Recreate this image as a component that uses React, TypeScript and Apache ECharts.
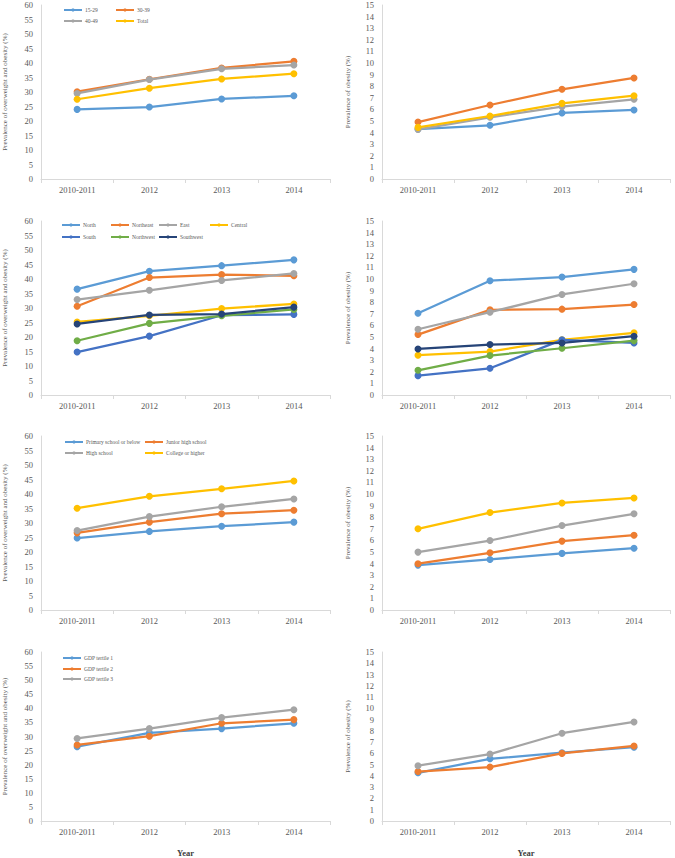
import React, { useEffect, useRef } from "react";
import * as echarts from "echarts";

const categories = ["2010-2011", "2012", "2013", "2014"];
const colors = ["#5B9BD5", "#ED7D31", "#A5A5A5", "#FFC000", "#4472C4", "#70AD47", "#264478"];

// Row 1: age groups
const ageNames = ["15-29", "30-39", "40-49", "Total"];
const ageOverweight = [
  [24.0, 24.8, 27.6, 28.7],
  [30.1, 34.4, 38.3, 40.6],
  [29.5, 34.3, 38.0, 39.3],
  [27.5, 31.3, 34.5, 36.3],
];
const ageObesity = [
  [4.3, 4.63, 5.69, 5.95],
  [4.91, 6.38, 7.73, 8.71],
  [4.28, 5.32, 6.24, 6.87],
  [4.45, 5.43, 6.52, 7.18],
];

// Row 2: regions
const regionNames = ["North", "Northeast", "East", "Central", "South", "Northwest", "Southwest"];
const regionOverweight = [
  [36.5, 42.7, 44.6, 46.6],
  [30.6, 40.5, 41.5, 41.1],
  [32.9, 36.1, 39.5, 41.9],
  [25.2, 27.3, 29.8, 31.4],
  [14.8, 20.3, 27.5, 27.8],
  [18.7, 24.7, 27.3, 29.5],
  [24.5, 27.6, 27.9, 30.3],
];
const regionObesity = [
  [7.05, 9.85, 10.17, 10.83],
  [5.21, 7.34, 7.4, 7.8],
  [5.67, 7.14, 8.67, 9.59],
  [3.43, 3.74, 4.75, 5.36],
  [1.67, 2.3, 4.75, 4.49],
  [2.13, 3.4, 4.03, 4.69],
  [3.97, 4.35, 4.49, 5.07],
];

// Row 3: education
const eduNames = ["Primary school or below", "Junior high school", "High school", "College or higher"];
const eduOverweight = [
  [24.8, 27.1, 28.9, 30.3],
  [26.6, 30.3, 33.2, 34.4],
  [27.4, 32.2, 35.6, 38.3],
  [35.1, 39.2, 41.8, 44.5],
];
const eduObesity = [
  [3.87, 4.36, 4.88, 5.33],
  [3.99, 4.93, 5.94, 6.45],
  [4.99, 5.99, 7.28, 8.29],
  [7.0, 8.4, 9.23, 9.66],
];

// Row 4: GDP tertiles
const gdpNames = ["GDP tertile 1", "GDP tertile 2", "GDP tertile 3"];
const gdpOverweight = [
  [26.4, 31.3, 32.8, 34.7],
  [27.0, 30.1, 34.7, 36.0],
  [29.3, 32.8, 36.7, 39.5],
];
const gdpObesity = [
  [4.28, 5.52, 6.06, 6.55],
  [4.39, 4.79, 6.0, 6.66],
  [4.91, 5.94, 7.79, 8.79],
];

const rows = [
  { names: ageNames, left: ageOverweight, right: ageObesity },
  { names: regionNames, left: regionOverweight, right: regionObesity },
  { names: eduNames, left: eduOverweight, right: eduObesity },
  { names: gdpNames, left: gdpOverweight, right: gdpObesity },
];

// legend item positions (layout)
const legendPos: [number, number][][] = [
  [[63, 11], [115, 11], [63, 22], [115, 22]],
  [[61, 226], [110, 226], [158, 226], [209, 226], [61, 238], [110, 238], [158, 238]],
  [[64, 443], [144, 443], [64, 454], [144, 454]],
  [[62, 659], [62, 670], [62, 680]],
];

const FONT = "'Liberation Serif', 'Times New Roman', serif";
const rowTops = [5, 221, 436, 652];
const PLOT_H = 174;

export default function App() {
  const ref = useRef<HTMLDivElement>(null);
  useEffect(() => {
    if (!ref.current) return;
    const chart = echarts.init(ref.current, null, { renderer: "svg" });
    const grid: any[] = [];
    const xAxis: any[] = [];
    const yAxis: any[] = [];
    const series: any[] = [];
    const legend: any[] = [];
    rows.forEach((row, r) => {
      [0, 1].forEach((c) => {
        const idx = r * 2 + c;
        grid.push({
          left: c === 0 ? 40 : 382,
          width: c === 0 ? 290 : 288,
          top: rowTops[r],
          height: PLOT_H,
        });
        xAxis.push({
          type: "category",
          gridIndex: idx,
          data: categories,
          boundaryGap: true,
          axisLine: { lineStyle: { color: "#D9D9D9", width: 1 } },
          axisTick: { show: true, length: 4, lineStyle: { color: "#D9D9D9" } },
          axisLabel: { color: "#595959", fontFamily: FONT, fontSize: 8.5, margin: 6 },
          name: r === 3 ? "Year" : "",
          nameLocation: "middle",
          nameGap: 27,
          nameTextStyle: { fontFamily: FONT, fontWeight: "bold", fontSize: 8.5, color: "#404040" },
        });
        yAxis.push({
          type: "value",
          gridIndex: idx,
          min: 0,
          max: c === 0 ? 60 : 15,
          interval: c === 0 ? 5 : 1,
          axisLine: { show: true, lineStyle: { color: "#D9D9D9", width: 1 } },
          axisTick: { show: false },
          splitLine: { show: false },
          axisLabel: { color: "#595959", fontFamily: FONT, fontSize: 8.5, margin: 8 },
          name: c === 0 ? "Prevalence of overweight and obesity (%)" : "Prevalence of obesity (%)",
          nameLocation: "middle",
          nameGap: c === 0 ? 33 : 31,
          nameTextStyle: { fontFamily: FONT, fontSize: 7, color: "#595959" },
        });
        const data = c === 0 ? row.left : row.right;
        row.names.forEach((name, i) => {
          series.push({
            type: "line",
            name,
            xAxisIndex: idx,
            yAxisIndex: idx,
            data: data[i],
            symbol: "circle",
            symbolSize: 7,
            color: colors[i],
            lineStyle: { width: 2.25, color: colors[i] },
            itemStyle: { color: colors[i] },
            z: 2 + i,
          });
        });
      });
      row.names.forEach((name, i) => {
        const [x, y] = legendPos[r][i];
        legend.push({
          data: [name],
          left: x,
          top: y - 4,
          itemWidth: 18,
          itemHeight: 4,
          padding: 0,
          selectedMode: false,
          textStyle: { fontFamily: FONT, fontSize: 5.5, color: "#595959", padding: [0, 0, 0, -2] },
        });
      });
    });
    chart.setOption({
      animation: false,
      backgroundColor: "#ffffff",
      grid,
      xAxis,
      yAxis,
      series,
      legend,
    });
    return () => chart.dispose();
  }, []);
  return (
    <div
      ref={ref}
      style={{ position: "fixed", left: 0, top: 0, width: 675, height: 858, background: "#fff" }}
    />
  );
}
